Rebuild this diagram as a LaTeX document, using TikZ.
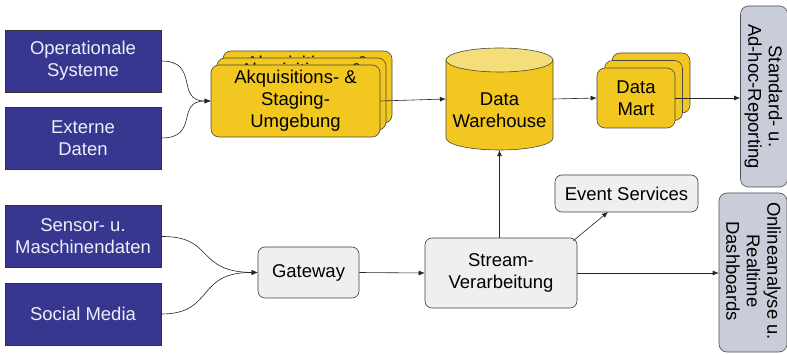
\documentclass[tikz,border=0pt]{standalone}
\usepackage{fontspec}
\setmainfont{Liberation Sans}
\usetikzlibrary{arrows.meta}
\definecolor{srcblue}{HTML}{373790}
\definecolor{srctext}{HTML}{EEEEFA}
\definecolor{dwyellow}{HTML}{F2C71F}
\definecolor{dwtop}{HTML}{F5DD7A}
\definecolor{edgegray}{HTML}{4A4A3A}
\definecolor{procgray}{HTML}{EFEFEF}
\definecolor{outgray}{HTML}{C9CDD9}
\tikzset{
  lbl/.style={font=\fontsize{18.5}{22}\selectfont, align=center, inner sep=0pt},
  srcbox/.style={lbl, draw=black!80, line width=0.5pt, fill=srcblue, text=srctext,
    minimum width=156pt, minimum height=62pt},
  stackbox/.style={lbl, draw=edgegray, line width=0.6pt, fill=dwyellow,
    rounded corners=8pt},
  procbox/.style={lbl, draw=black!75, line width=0.6pt, fill=procgray,
    rounded corners=7pt},
  outbox/.style={draw=black!70, line width=0.6pt, fill=outgray,
    rounded corners=8pt, inner sep=0pt},
  vlbl/.style={font=\fontsize{18.5}{20.5}\selectfont, inner sep=0pt, rotate=-90, align=center},
  flow/.style={draw=black!85, line width=0.6pt, -{Latex[length=6pt,width=5pt]}},
}
\begin{document}
\begin{tikzpicture}[x=1pt,y=-1pt]
\useasboundingbox[fill=white] (0,0) rectangle (787,355);

% data sources
\node[srcbox] (ops) at (83,61) {Operationale\\Systeme};
\node[srcbox] (ext) at (83,138) {Externe\\Daten};
\node[srcbox] (sensor) at (83,236.5) {Sensor- u.\\Maschinendaten};
\node[srcbox] (social) at (83,314) {Social Media};

% acquisition and staging: three stacked copies
\foreach \dx/\dy/\nm in {12/-14/akqc, 6/-7/akqb, 0/0/akq}{
  \node[stackbox, minimum width=169pt, minimum height=72pt] (\nm)
    at (295.5+\dx,101+\dy) {Akquisitions- \&\\Staging-\\Umgebung};
}

% data warehouse cylinder
\fill[dwyellow] (446,60) -- (446,138) arc[start angle=180, end angle=360, x radius=53.5, y radius=-12]
  -- (553,60) -- cycle;
\draw[edgegray, line width=0.6pt] (446,60) -- (446,138)
  arc[start angle=180, end angle=360, x radius=53.5, y radius=-12] -- (553,60);
\draw[edgegray, line width=0.6pt, fill=dwtop] (499.5,60) ellipse[x radius=53.5, y radius=12];
\node[lbl, minimum width=107pt, minimum height=102pt] (dw) at (499.5,99) {};
\node[lbl] (dwtext) at (499.5,110) {Data\\Warehouse};

% data marts: three stacked copies, label on the front one
\node[stackbox, minimum width=78pt, minimum height=60pt] (martc) at (651,83) {};
\node[stackbox, minimum width=78pt, minimum height=60pt] (martb) at (643.5,90.5) {};
\node[stackbox, minimum width=78pt, minimum height=60pt] (mart) at (636,98) {Data\\Mart};

% stream branch
\node[procbox, minimum width=101pt, minimum height=51pt] (gw) at (308.5,272.5) {Gateway};
\node[procbox, minimum width=152pt, minimum height=70pt] (stream) at (501,273) {Stream-\\Verarbeitung};
\node[procbox, minimum width=143pt, minimum height=37pt] (events) at (626.5,193.5) {Event Services};

% consumers
\node[outbox, minimum width=47pt, minimum height=181pt] (report) at (764,96.5) {};
\node[vlbl] (reporttext) at (763.5,96.5) {Standard- u.\\Ad-hoc-Reporting};
\node[outbox, minimum width=68pt, minimum height=159pt] (online) at (753,272.5) {};
\node[vlbl] (onlinetext) at (753.5,271) {Onlineanalyse u.\\Realtime\\Dashboards};

% connectors
\coordinate (akqin) at (akq.west);
\draw[flow] (ops.east) .. controls (200,61) and (175,101) .. (akqin);
\draw[flow] (ext.east) .. controls (200,138) and (175,101) .. (akqin);
\draw[flow] (akq.east) -- (dw.west);
\draw[flow] (dw.east) -- (mart.west);
\draw[flow] (mart.east) -- (report.west |- mart.east);

\coordinate (gwin) at (gw.west);
\draw[flow] (sensor.east) .. controls (215,236) and (195,272) .. (gwin);
\draw[flow] (social.east) .. controls (215,314) and (195,272) .. (gwin);
\draw[flow] (gw.east) -- (stream.west);
\draw[flow] (stream.north -| dw.south) -- (dw.south);
\draw[flow] (stream.north east) ++(-4,3) coordinate (sne) (sne) -- (608,212);
\draw[flow] (stream.east) -- (online.west |- stream.east);
\end{tikzpicture}
\end{document}
